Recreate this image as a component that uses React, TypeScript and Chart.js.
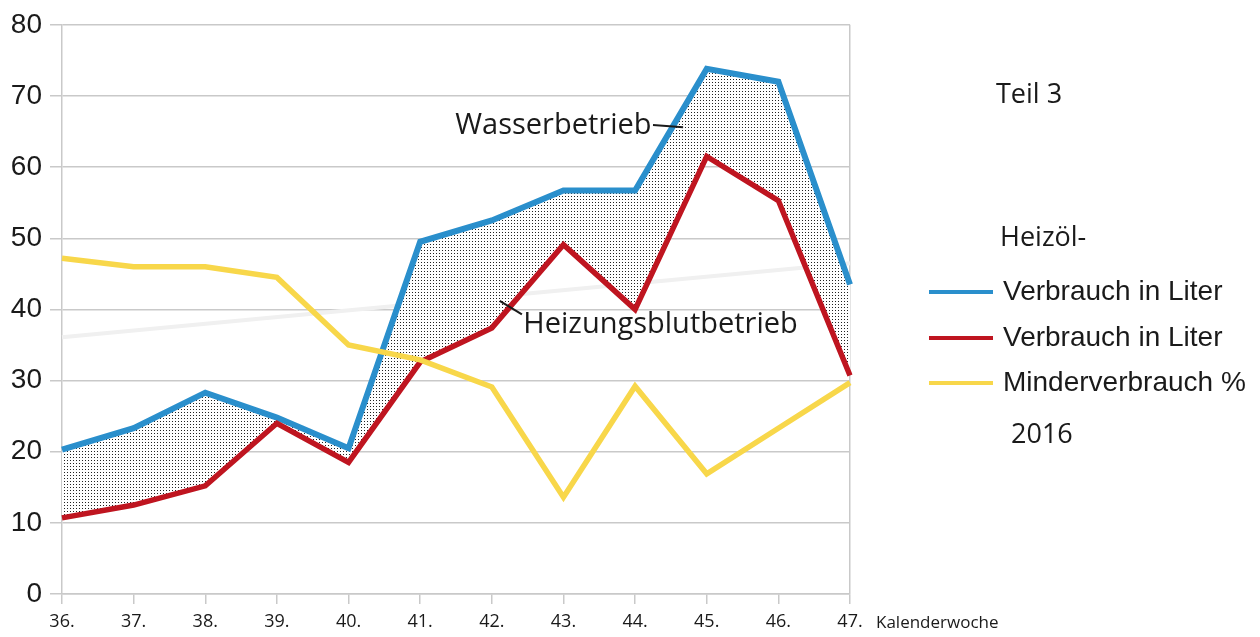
import React, { useEffect, useRef } from "react";
import { Chart, registerables } from "chart.js";

Chart.register(...registerables);

const weeks = ["36.", "37.", "38.", "39.", "40.", "41.", "42.", "43.", "44.", "45.", "46.", "47."];
const wasserValues = [20.3, 23.3, 28.3, 24.8, 20.5, 49.5, 52.5, 56.7, 56.7, 73.8, 72.0, 43.5];
const heizungValues = [10.7, 12.5, 15.2, 24.0, 18.5, 32.6, 37.4, 49.1, 40.0, 61.5, 55.3, 30.7];
const minderValues = [47.2, 46.0, 46.0, 44.5, 35.0, 32.9, 29.1, 13.6, 29.2, 16.9, 23.3, 29.7];
const trendValues = [36.1, null, null, null, null, null, null, null, null, null, null, 46.5];
const yTicks = [0, 10, 20, 30, 40, 50, 60, 70, 80];

const seriesLabels = ["Verbrauch in Liter", "Verbrauch in Liter", "Minderverbrauch %"];
const seriesColors = ["#2a8fcc", "#bf1520", "#f8d74a"];

const GRID = "#c9c9c9";

export default function App() {
  const ref = useRef<HTMLCanvasElement>(null);

  useEffect(() => {
    document.body.style.margin = "0";
    const canvas = ref.current;
    if (!canvas) return;

    const pc = document.createElement("canvas");
    pc.width = 3;
    pc.height = 3;
    const pctx = pc.getContext("2d")!;
    pctx.fillStyle = "#ffffff";
    pctx.fillRect(0, 0, 3, 3);
    pctx.fillStyle = "#222222";
    pctx.fillRect(1, 1, 1, 1);
    const pattern = canvas.getContext("2d")!.createPattern(pc, "repeat");

    const overlay = {
      id: "overlay",
      afterDatasetsDraw(chart: any) {
        const ctx = chart.ctx;
        const xs = chart.scales.x;
        const ys = chart.scales.y;
        const px = (i: number) => {
          const a = Math.floor(i);
          const b = Math.min(a + 1, weeks.length - 1);
          const pa = xs.getPixelForValue(a);
          const pb = xs.getPixelForValue(b);
          return pa + (pb - pa) * (i - a);
        };
        const py = (v: number) => ys.getPixelForValue(v);
        ctx.save();
        ctx.fillStyle = "#1a1a1a";
        ctx.strokeStyle = "#1a1a1a";
        ctx.lineWidth = 2;
        ctx.textBaseline = "middle";
        ctx.textAlign = "left";
        ctx.font = "29px 'Open Sans'";
        ctx.fillText("Wasserbetrieb", px(5.49), py(65.8));
        ctx.beginPath();
        ctx.moveTo(px(8.25), py(65.9));
        ctx.lineTo(px(8.67), py(65.6));
        ctx.stroke();
        ctx.fillText("Heizungsblutbetrieb", px(6.44), py(37.9));
        ctx.beginPath();
        ctx.moveTo(px(6.11), py(41.2));
        ctx.lineTo(px(6.42), py(39.3));
        ctx.stroke();
        ctx.restore();
      },
      afterDraw(chart: any) {
        const ctx = chart.ctx;
        const xs = chart.scales.x;
        ctx.save();
        ctx.fillStyle = "#1a1a1a";
        ctx.textBaseline = "middle";
        ctx.textAlign = "left";
        ctx.font = "17px 'Open Sans'";
        ctx.fillText("Kalenderwoche", xs.right + 26, 623);
        ctx.font = "27px 'Open Sans'";
        ctx.fillText("Teil 3", 996, 95);
        ctx.fillText("Heizöl-", 1000, 238);
        ctx.fillText("2016", 1011, 435);
        const rows = [292, 338, 383];
        ctx.font = "28px 'Liberation Sans'";
        for (let i = 0; i < seriesLabels.length; i++) {
          ctx.strokeStyle = seriesColors[i];
          ctx.lineWidth = 4;
          ctx.beginPath();
          ctx.moveTo(929, rows[i]);
          ctx.lineTo(993, rows[i]);
          ctx.stroke();
          ctx.fillText(seriesLabels[i], 1003, rows[i]);
        }
        ctx.restore();
      },
    };

    const chart = new Chart(canvas, {
      type: "line",
      data: {
        labels: weeks,
        datasets: [
          {
            label: seriesLabels[2],
            data: minderValues,
            borderColor: seriesColors[2],
            borderWidth: 5.5,
            pointRadius: 0,
            tension: 0,
            fill: false,
            order: 0,
          },
          {
            label: seriesLabels[0],
            data: wasserValues,
            borderColor: seriesColors[0],
            backgroundColor: pattern as any,
            borderWidth: 6,
            borderJoinStyle: "miter",
            pointRadius: 0,
            tension: 0,
            fill: 2,
            order: 2,
          },
          {
            label: seriesLabels[1],
            data: heizungValues,
            borderColor: seriesColors[1],
            borderWidth: 5.5,
            borderJoinStyle: "miter",
            pointRadius: 0,
            tension: 0,
            fill: false,
            order: 1,
          },
          {
            label: "Trend",
            data: trendValues,
            borderColor: "#f0f0f0",
            borderWidth: 4,
            pointRadius: 0,
            tension: 0,
            spanGaps: true,
            fill: false,
            order: 3,
          },
        ],
      },
      options: {
        animation: false,
        responsive: false,
        maintainAspectRatio: false,
        layout: { padding: { top: 20, right: 410, left: 0, bottom: 0 } },
        plugins: {
          legend: { display: false },
          tooltip: { enabled: false },
        },
        scales: {
          x: {
            offset: false,
            grid: {
              drawOnChartArea: true,
              color: (c: any) => (c.index === weeks.length - 1 ? GRID : "rgba(0,0,0,0)"),
              tickColor: GRID,
              tickLength: 10,
              lineWidth: 1.5,
            },
            border: { display: true, color: GRID, width: 1.5 },
            ticks: {
              color: "#1a1a1a",
              font: { family: "'Open Sans'", size: 18 },
              padding: 7,
              maxRotation: 0,
              autoSkip: false,
            },
            afterFit: (s: any) => {
              s.height = 43;
            },
          },
          y: {
            min: 0,
            max: 80,
            afterBuildTicks: (s: any) => {
              s.ticks = yTicks.map((v) => ({ value: v }));
            },
            grid: { color: GRID, tickLength: 12, lineWidth: 1.5 },
            border: { display: true, color: GRID, width: 1.5 },
            ticks: {
              color: "#1a1a1a",
              font: { family: "'Liberation Sans'", size: 28 },
              padding: 8,
            },
            afterFit: (s: any) => {
              s.width = 62;
            },
          },
        },
      },
      plugins: [overlay],
    });

    return () => chart.destroy();
  }, []);

  return (
    <div style={{ width: 1260, height: 637, position: "relative", background: "#fff" }}>
      <canvas ref={ref} width={1260} height={637} style={{ display: "block" }} />
    </div>
  );
}
